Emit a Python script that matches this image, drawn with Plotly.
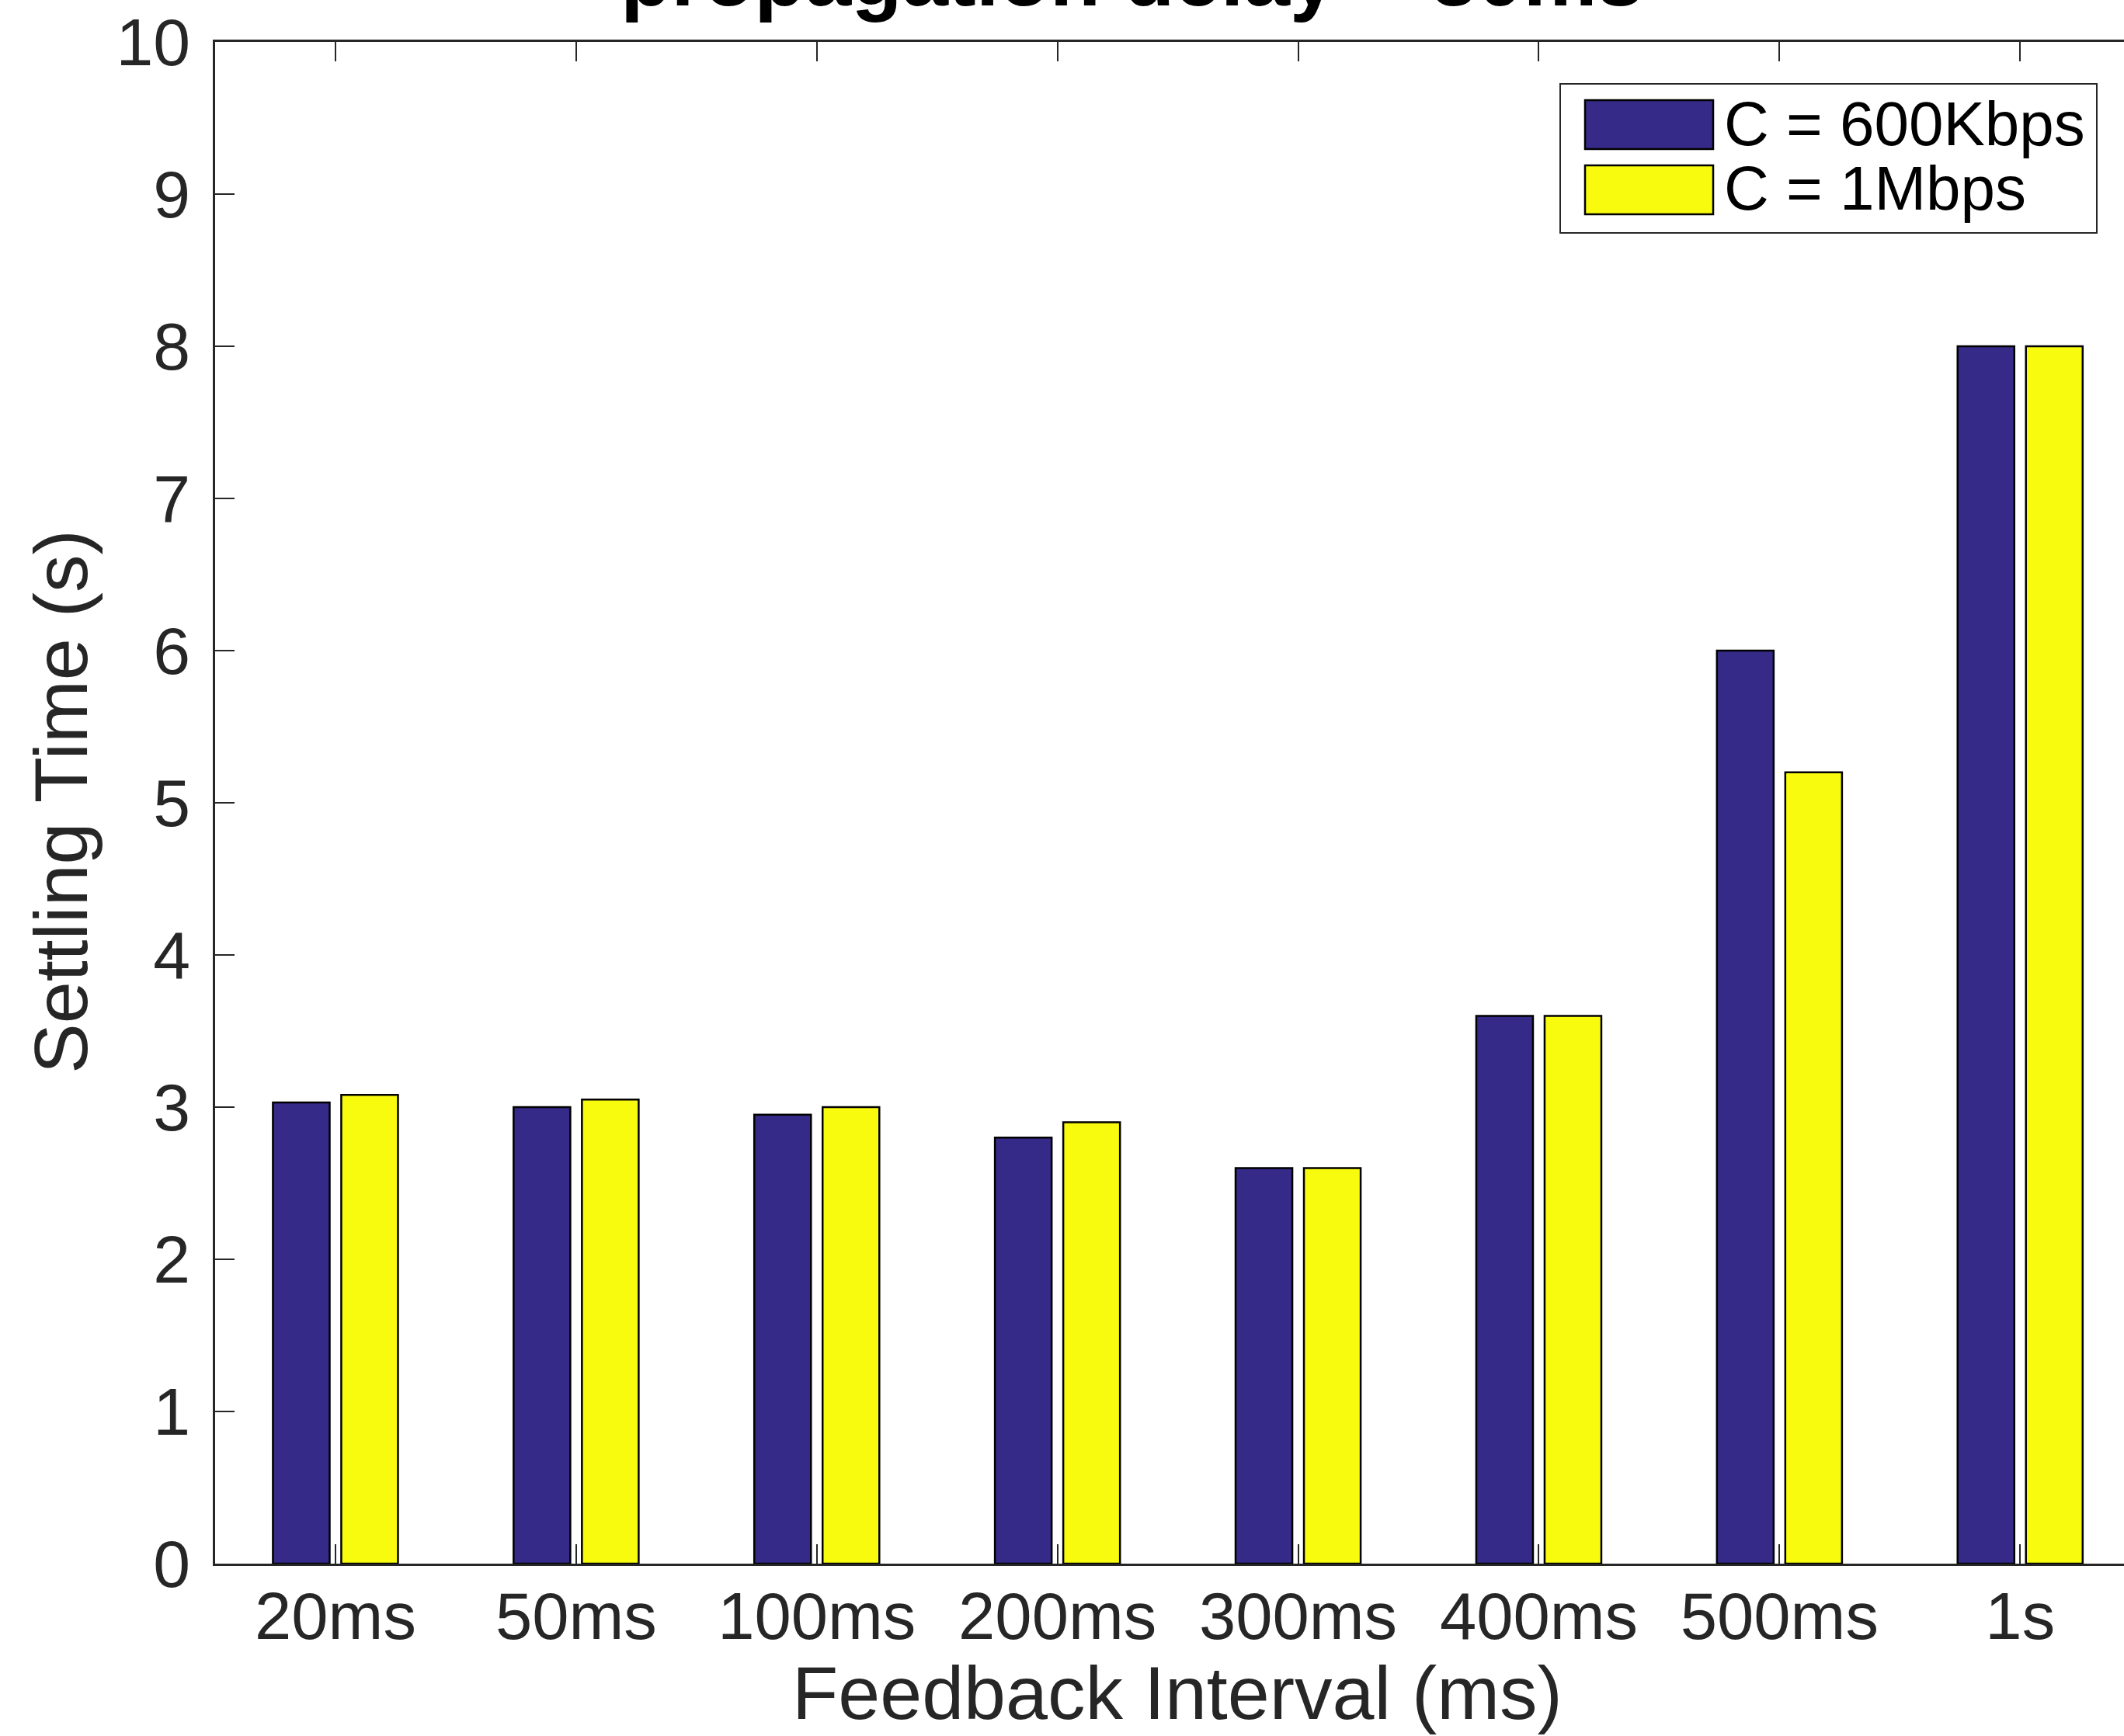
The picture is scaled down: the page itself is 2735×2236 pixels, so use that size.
import plotly.graph_objects as go

categories = ["20ms", "50ms", "100ms", "200ms", "300ms", "400ms", "500ms", "1s"]
series_names = ["C = 600Kbps", "C = 1Mbps"]
values_600k = [3.03, 3.00, 2.95, 2.80, 2.60, 3.60, 6.00, 8.00]
values_1m = [3.08, 3.05, 3.00, 2.90, 2.60, 3.60, 5.20, 8.00]
colors = ["#352a87", "#f9fb0e"]
y_ticks = list(range(0, 11))

title_text = "propagation delay = 30ms"
x_title = "Feedback Interval (ms)"
y_title = "Settling Time (s)"

W, H = 2735, 2236
L, R, T, B = 277, 0, 54, 222
PW = W - L - R
PH = H - T - B
cat_px = 309.9
x_max = -0.5 + PW / cat_px

FONT = "Liberation Sans, Arial, Helvetica, sans-serif"
TXT = "#262626"

fig = go.Figure()
for name, vals, col in zip(series_names, [values_600k, values_1m], colors):
    fig.add_trace(go.Bar(
        x=list(range(len(categories))), y=vals, name=name,
        marker=dict(color=col, line=dict(color="#000000", width=2.5)),
        showlegend=False,
    ))

def px_x(p):
    return (p - L) / PW

def px_y(p):
    return 1 - (p - T) / PH

# legend (custom, to match the large swatches)
shapes = [dict(type="rect", xref="paper", yref="paper",
               x0=px_x(2009), x1=px_x(2700), y0=px_y(300), y1=px_y(108),
               line=dict(color=TXT, width=2), fillcolor="white", layer="above")]
annotations = []
rows = [(129, 192, 159), (213, 276, 242)]
for (top, bot, mid), name, col in zip(rows, series_names, colors):
    shapes.append(dict(type="rect", xref="paper", yref="paper",
                       x0=px_x(2041), x1=px_x(2206), y0=px_y(bot), y1=px_y(top),
                       line=dict(color="#000000", width=2.5), fillcolor=col, layer="above"))
    annotations.append(dict(xref="paper", yref="paper", x=px_x(2218), y=px_y(mid),
                            xanchor="left", yanchor="middle", text=name, showarrow=False,
                            font=dict(family=FONT, size=80, color="#000000")))

annotations.append(dict(xref="paper", yref="paper", x=px_x(797), y=px_y(-30),
                        xanchor="left", yanchor="middle", text="<b>" + title_text + "</b>",
                        showarrow=False, font=dict(family=FONT, size=107, color="#000000")))
annotations.append(dict(xref="paper", yref="paper", x=px_x(1516), y=px_y(2180),
                        xanchor="center", yanchor="middle", text=x_title, showarrow=False,
                        font=dict(family=FONT, size=97, color=TXT)))
annotations.append(dict(xref="paper", yref="paper", x=px_x(78), y=px_y(1033),
                        xanchor="center", yanchor="middle", text=y_title, showarrow=False,
                        textangle=-90, font=dict(family=FONT, size=97, color=TXT)))

fig.update_layout(
    width=W, height=H,
    margin=dict(l=L, r=R, t=T, b=B, autoexpand=False),
    paper_bgcolor="white", plot_bgcolor="white",
    barmode="group", bargap=0.432, bargroupgap=0.17,
    shapes=shapes, annotations=annotations,
    font=dict(family=FONT, color=TXT),
)
fig.update_xaxes(
    range=[-0.5, x_max], tickmode="array", tickvals=list(range(len(categories))),
    ticktext=categories, ticks="inside", ticklen=25, tickwidth=2, tickcolor=TXT,
    showline=True, linecolor=TXT, linewidth=2.5, mirror="ticks", showgrid=False,
    zeroline=False, tickfont=dict(family=FONT, size=85, color=TXT), automargin=False,
    ticklabelstandoff=-8,
)
fig.update_yaxes(
    range=[0, 10], tickmode="array", tickvals=y_ticks, ticktext=[str(v) for v in y_ticks],
    ticks="inside", ticklen=25, tickwidth=2, tickcolor=TXT,
    showline=True, linecolor=TXT, linewidth=2.5, mirror=False, showgrid=False,
    zeroline=False, tickfont=dict(family=FONT, size=86, color=TXT), automargin=False,
    ticklabelstandoff=12,
)

fig.write_html("out.html")
